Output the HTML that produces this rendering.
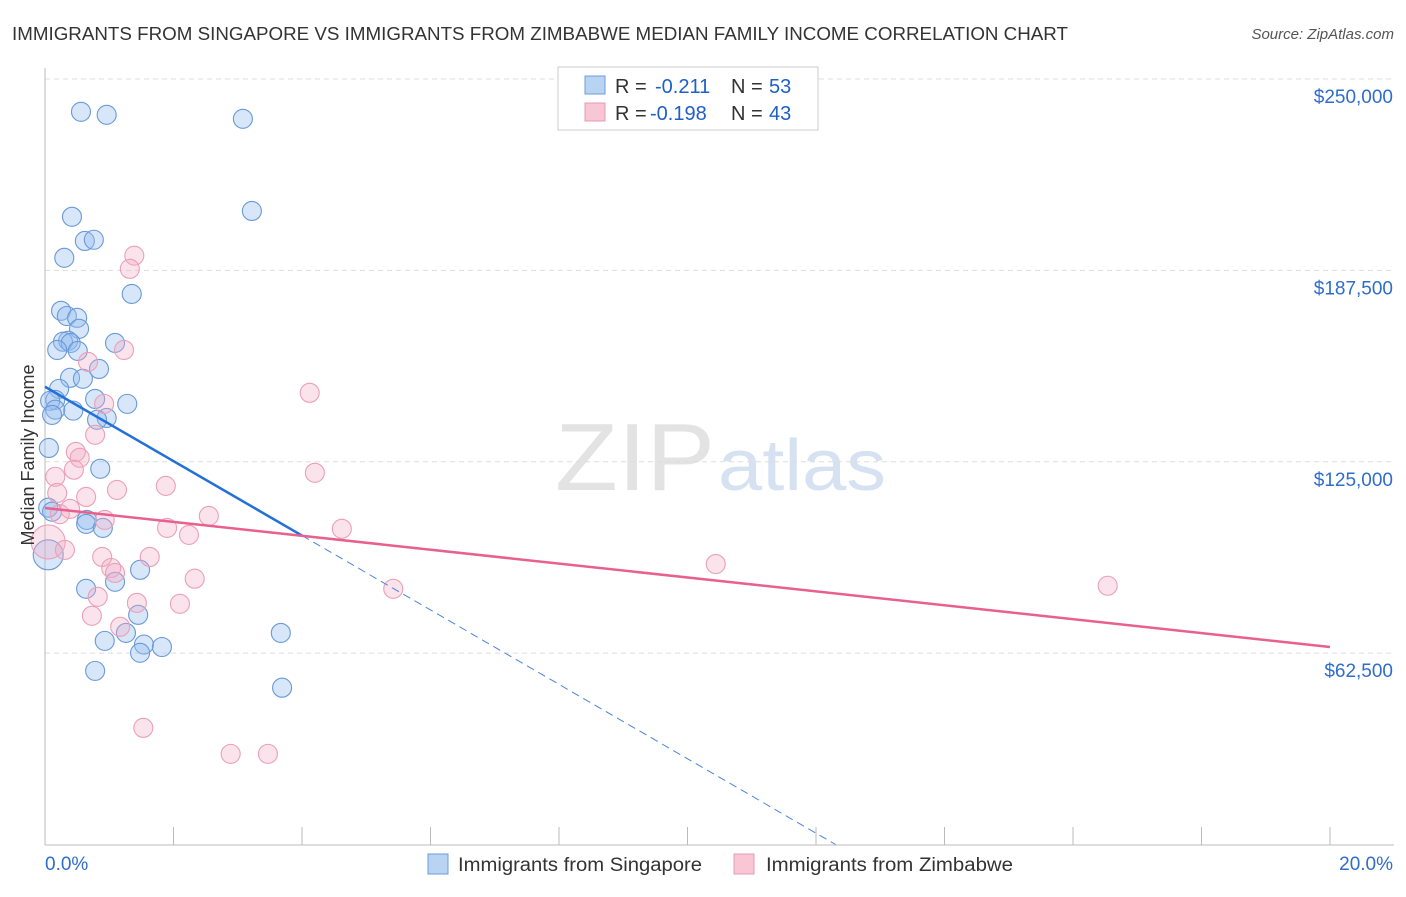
<!DOCTYPE html>
<html><head><meta charset="utf-8"><style>
body{margin:0;background:#fff;font-family:"Liberation Sans",sans-serif;}
svg text{font-family:"Liberation Sans",sans-serif;}
</style></head><body>
<svg id="chart" width="1406" height="892">
<text x="12" y="40" font-size="18" fill="#333" textLength="1056" lengthAdjust="spacingAndGlyphs">IMMIGRANTS FROM SINGAPORE VS IMMIGRANTS FROM ZIMBABWE MEDIAN FAMILY INCOME CORRELATION CHART</text>
<text x="1394" y="39" font-size="15" fill="#555" font-style="italic" text-anchor="end">Source: ZipAtlas.com</text>
<text x="555" y="490" font-size="96" fill="#e3e3e3" textLength="160" lengthAdjust="spacingAndGlyphs" font-family="Liberation Serif">ZIP</text>
<text x="718" y="490" font-size="72" fill="#d6e2f2" textLength="168" lengthAdjust="spacingAndGlyphs">atlas</text>
<g id="grid"></g><g id="axes"></g><g id="pts"></g><g id="lines"></g>
<text transform="translate(34,455) rotate(-90)" font-size="18" fill="#333" text-anchor="middle">Median Family Income</text>
<rect x="558" y="67" width="260" height="63" fill="#fff" stroke="#ccc"/>
<rect x="585" y="76" width="20" height="18" fill="#b9d3f3" stroke="#6d9bd8"/>
<rect x="585" y="103" width="20" height="18" fill="#f8c6d4" stroke="#e99ab4"/>
<g font-size="20">
<text x="615" y="93" fill="#333">R =</text><text x="655" y="93" fill="#1f5fc8">-0.211</text>
<text x="731" y="93" fill="#333">N =</text><text x="769" y="93" fill="#1f5fc8">53</text></g>
<g font-size="20">
<text x="615" y="120" fill="#333">R =</text><text x="650" y="120" fill="#1f5fc8">-0.198</text>
<text x="731" y="120" fill="#333">N =</text><text x="769" y="120" fill="#1f5fc8">43</text></g>
<rect x="428" y="854" width="20" height="20" fill="#b9d3f3" stroke="#6d9bd8"/>
<text x="458" y="871" font-size="19" fill="#333" textLength="244" lengthAdjust="spacingAndGlyphs">Immigrants from Singapore</text>
<rect x="734" y="854" width="20" height="20" fill="#f8c6d4" stroke="#e99ab4"/>
<text x="766" y="871" font-size="19" fill="#333" textLength="247" lengthAdjust="spacingAndGlyphs">Immigrants from Zimbabwe</text>
</svg>
<script>
const yTicks=[62500,125000,187500,250000];
const yTickLabels=["$62,500","$125,000","$187,500","$250,000"];
const xTicks=[0,2,4,6,8,10,12,14,16,18,20];
const blueX=[0.56,0.96,3.08,3.22,0.42,0.62,0.76,0.30,1.35,0.25,0.34,0.50,0.53,1.09,0.36,0.28,0.40,0.19,0.51,0.39,0.59,0.84,0.22,0.16,0.78,0.08,1.28,0.16,0.44,0.96,0.81,0.11,0.06,0.86,0.05,0.65,0.64,0.90,0.05,1.48,1.09,0.64,1.45,1.26,0.93,3.67,1.54,1.48,1.82,0.78,3.69,0.11];
const blueY=[239.3,238.3,237.0,206.9,205.0,197.1,197.5,191.6,179.8,174.3,172.6,172.0,168.4,163.8,164.5,164.2,163.8,161.5,161.2,152.4,152.1,155.3,148.8,145.2,145.5,144.9,143.9,142.0,141.7,139.3,138.7,140.3,129.5,122.7,110.0,106.0,104.7,103.4,94.6,89.7,85.8,83.5,75.0,69.1,66.5,69.1,65.3,62.6,64.5,56.7,51.2,108.7];
const pinkX=[1.39,1.32,1.23,0.67,4.12,0.92,0.78,0.48,0.54,4.20,0.45,0.16,1.88,0.64,0.19,1.12,2.55,0.23,0.39,0.93,1.90,4.62,2.24,0.05,0.31,1.63,0.89,1.03,1.09,2.33,5.42,10.44,16.54,0.82,1.43,2.10,0.73,1.17,1.53,2.89,3.47];
const pinkY=[192.3,188.0,161.5,157.6,147.5,143.9,133.8,128.2,126.3,121.4,122.4,120.1,117.1,113.5,114.8,115.8,107.3,107.9,109.6,106.0,103.4,103.1,101.1,98.8,96.2,93.9,93.9,90.3,88.7,86.8,83.5,91.6,84.5,80.9,78.9,78.6,74.7,71.1,38.1,29.6,29.6];
const blueTrend=[149.5,-12.15];
const pinkTrend=[109.9,-2.27];
const NS="http://www.w3.org/2000/svg";
const X0=45,X1=1330,Y0=844.5,YTOP=79;
const xs=v=>X0+(v/20)*(X1-X0);
const ys=v=>Y0-(v/250)*(Y0-YTOP);
function mk(tag,attrs,parent){const e=document.createElementNS(NS,tag);for(const k in attrs)e.setAttribute(k,attrs[k]);document.getElementById(parent).appendChild(e);return e;}
yTicks.forEach((t,i)=>{
 const y=ys(t/1000);
 const g=mk('line',{x1:X0,x2:1394,y1:y,y2:y,stroke:'#ddd','stroke-dasharray':'5,4'},'grid');
 
 
 const tx=mk('text',{x:1393,y:y+24,'font-size':19,fill:'#2f6dcc','text-anchor':'end'},'grid');
 tx.textContent=yTickLabels[i];
 
 
});
const ax=mk('line',{x1:X0,x2:1394,y1:845,y2:845,stroke:'#bbb'},'axes');


const ay=mk('line',{x1:X0,x2:X0,y1:68,y2:845,stroke:'#bbb'},'axes');


xTicks.forEach(t=>{
 const tk=mk('line',{x1:xs(t),x2:xs(t),y1:827,y2:845,stroke:'#bbb'},'axes');
 
 
});
const xl0=mk('text',{x:45,y:870,'font-size':19,fill:'#2f6dcc'},'axes');xl0.textContent='0.0%';


const xl1=mk('text',{x:1393,y:870,'font-size':19,fill:'#2f6dcc','text-anchor':'end'},'axes');xl1.textContent='20.0%';


blueX.forEach((x,i)=>{
 const big=(i===38);
 const c=mk('circle',{cx:xs(x),cy:ys(blueY[i]),r:big?15:9.5,fill:'rgba(150,190,240,0.38)',stroke:'#6a9ad8','stroke-width':1.1},'pts');
 
 
});
pinkX.forEach((x,i)=>{
 const big=(i===23);
 const c=mk('circle',{cx:xs(x),cy:ys(pinkY[i]),r:big?17:9.5,fill:'rgba(244,170,195,0.33)',stroke:'#eba0b8','stroke-width':1.1},'pts');
 
 
});
const bz=-blueTrend[0]/blueTrend[1];
const bl=mk('line',{x1:xs(0),y1:ys(blueTrend[0]),x2:xs(4),y2:ys(blueTrend[0]+blueTrend[1]*4),stroke:'#2270d8','stroke-width':2.5},'lines');


const bd=mk('line',{x1:xs(4),y1:ys(blueTrend[0]+blueTrend[1]*4),x2:xs(bz),y2:ys(0),stroke:'#4a85d8','stroke-width':1,'stroke-dasharray':'8,5'},'lines');


const pl=mk('line',{x1:xs(0),y1:ys(pinkTrend[0]),x2:xs(20),y2:ys(pinkTrend[0]+pinkTrend[1]*20),stroke:'#e8608d','stroke-width':2.5},'lines');


</script>
</body></html>
